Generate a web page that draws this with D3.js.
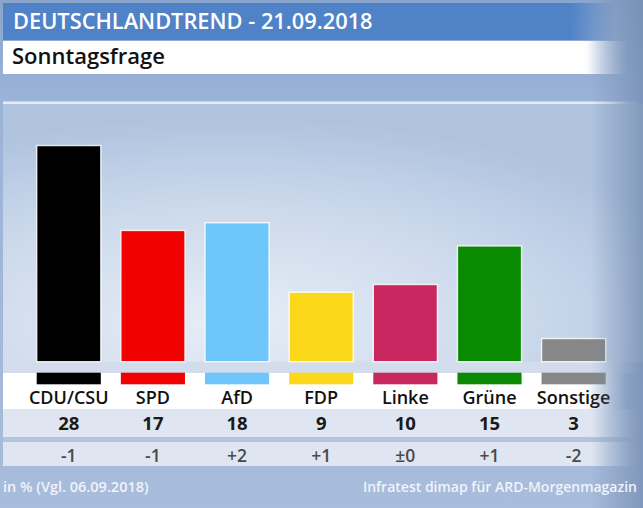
<!DOCTYPE html>
<html><head><meta charset="utf-8">
<script src="https://cdn.jsdelivr.net/npm/d3@7"></script>
<style>html,body{margin:0;padding:0;background:#9fb4d6;}svg{display:block;}</style>
</head><body>
<script>
const categories = ["CDU/CSU","SPD","AfD","FDP","Linke","Grüne","Sonstige"];
const values = [28,17,18,9,10,15,3];
const changes = ["-1","-1","+2","+1","±0","+1","-2"];
const colors = ["#000000","#f00000","#6ec6fb","#fcd81a","#c8275f","#0a8a00","#878787"];
const title = "DEUTSCHLANDTREND - 21.09.2018";
const subtitle = "Sonntagsfrage";
const noteLeft = "in % (Vgl. 06.09.2018)";
const noteRight = "Infratest dimap für ARD-Morgenmagazin";

const W = 643, H = 508;
const FONT = "'Open Sans', 'DejaVu Sans', sans-serif";
const svg = d3.select("body").append("svg").attr("width", W).attr("height", H);
const defs = svg.append("defs");

// gradients
const bg = defs.append("linearGradient").attr("id","bg").attr("x1",0).attr("y1",0).attr("x2",0).attr("y2",1);
bg.append("stop").attr("offset","0").attr("stop-color","#8aa5cc");
bg.append("stop").attr("offset","0.2").attr("stop-color","#9cb3d8");
bg.append("stop").attr("offset","1").attr("stop-color","#a8bcdc");

const chartBg = defs.append("radialGradient").attr("id","cbg").attr("cx","0.35").attr("cy","0.85").attr("r","0.8");
chartBg.append("stop").attr("offset","0").attr("stop-color","#e6edf6");
chartBg.append("stop").attr("offset","0.55").attr("stop-color","#cddaec");
chartBg.append("stop").attr("offset","1").attr("stop-color","#afc3df");

function fadeRight(id, color, start, end) {
  const g = defs.append("linearGradient").attr("id", id).attr("gradientUnits","userSpaceOnUse")
    .attr("x1", 0).attr("x2", W).attr("y1",0).attr("y2",0);
  g.append("stop").attr("offset", 0).attr("stop-color", color).attr("stop-opacity",1);
  g.append("stop").attr("offset", start/W).attr("stop-color", color).attr("stop-opacity",1);
  g.append("stop").attr("offset", end/W).attr("stop-color", color).attr("stop-opacity",0);
}
fadeRight("blueFade", "#4f82c6", 570, 615);
fadeRight("whiteFade", "#ffffff", 585, 628);
fadeRight("valFade", "#dfe6f1", 595, 640);
fadeRight("sepFade", "#b3c4dc", 595, 640);
fadeRight("lineFade", "#e4ecf7", 610, 643);
fadeRight("greyFade", "#d3dcea", 600, 640);

const edge = defs.append("linearGradient").attr("id","edge").attr("gradientUnits","userSpaceOnUse")
  .attr("x1", 590).attr("x2", W).attr("y1",0).attr("y2",0);
edge.append("stop").attr("offset",0).attr("stop-color","#6f88ad").attr("stop-opacity",0);
edge.append("stop").attr("offset",1).attr("stop-color","#6f88ad").attr("stop-opacity",0.7);

// background
svg.append("rect").attr("width",W).attr("height",H).attr("fill","url(#bg)");
svg.append("rect").attr("x",3).attr("y",104).attr("width",W-3).attr("height",258).attr("fill","url(#cbg)");
svg.append("rect").attr("x",3).attr("y",101.5).attr("width",W-3).attr("height",2.5).attr("fill","url(#lineFade)");

// header
svg.append("rect").attr("x",3).attr("y",3).attr("width",W-3).attr("height",37).attr("fill","url(#blueFade)");
svg.append("rect").attr("x",3).attr("y",41).attr("width",W-3).attr("height",33).attr("fill","url(#whiteFade)");
svg.append("text").attr("x",13).attr("y",28.5).text(title)
  .attr("font-family",FONT).attr("font-weight",600).attr("font-size",21.8).attr("fill","#ffffff");
svg.append("text").attr("x",12).attr("y",63.5).text(subtitle)
  .attr("font-family",FONT).attr("font-weight",600).attr("font-size",22).attr("fill","#111111");

// scales
const x = d3.scaleBand().domain(categories).range([36.7, 605.7]).paddingInner(0.238).paddingOuter(0);
const baseline = 361.7;
const y = d3.scaleLinear().domain([0, 30]).range([baseline, baseline - 7.72*30]);

// table rows
svg.append("rect").attr("x",3).attr("y",baseline).attr("width",W-3).attr("height",373-baseline).attr("fill","url(#greyFade)");
svg.append("rect").attr("x",3).attr("y",373).attr("width",W-3).attr("height",36).attr("fill","url(#whiteFade)");
svg.append("rect").attr("x",3).attr("y",409).attr("width",W-3).attr("height",28).attr("fill","url(#valFade)");
svg.append("rect").attr("x",3).attr("y",437).attr("width",W-3).attr("height",5).attr("fill","url(#sepFade)");
svg.append("rect").attr("x",3).attr("y",442).attr("width",W-3).attr("height",24).attr("fill","url(#valFade)");

// bars
svg.append("g").selectAll("rect").data(categories).join("rect")
  .attr("x", d => x(d)).attr("y", (d,i) => y(values[i]))
  .attr("width", x.bandwidth()).attr("height", (d,i) => y(0) - y(values[i]))
  .attr("fill", (d,i) => colors[i])
  .attr("stroke", "rgba(255,255,255,0.85)").attr("stroke-width", 1.4);

// colour strips
svg.append("g").selectAll("rect").data(categories).join("rect")
  .attr("x", d => x(d)).attr("y", 372.7).attr("width", x.bandwidth()).attr("height", 11.6)
  .attr("fill", (d,i) => colors[i]);

// category labels
const cx = d => x(d) + x.bandwidth()/2;
svg.append("g").selectAll("text").data(categories).join("text")
  .attr("x", cx).attr("y", 404).attr("text-anchor","middle").text(d => d)
  .attr("font-family",FONT).attr("font-weight",600).attr("font-size",18).attr("fill","#111111");

// values
svg.append("g").selectAll("text").data(categories).join("text")
  .attr("x", cx).attr("y", 430).attr("text-anchor","middle").text((d,i) => values[i])
  .attr("font-family",FONT).attr("font-weight",700).attr("font-size",18.5).attr("fill","#1a1a1a");

// changes
svg.append("g").selectAll("text").data(categories).join("text")
  .attr("x", cx).attr("y", 462).attr("text-anchor","middle").text((d,i) => changes[i])
  .attr("font-family",FONT).attr("font-weight",600).attr("font-size",17.5).attr("fill","#4a4a4a");

// right edge decoration
svg.append("rect").attr("x",590).attr("y",0).attr("width",W-590).attr("height",H).attr("fill","url(#edge)");

// footer
svg.append("text").attr("x",3).attr("y",492).text(noteLeft)
  .attr("font-family",FONT).attr("font-weight",600).attr("font-size",14.5).attr("fill","#f0f4fa");
svg.append("text").attr("x",637).attr("y",492).attr("text-anchor","end").text(noteRight)
  .attr("font-family",FONT).attr("font-weight",600).attr("font-size",14).attr("fill","#f0f4fa");
</script>
</body></html>
